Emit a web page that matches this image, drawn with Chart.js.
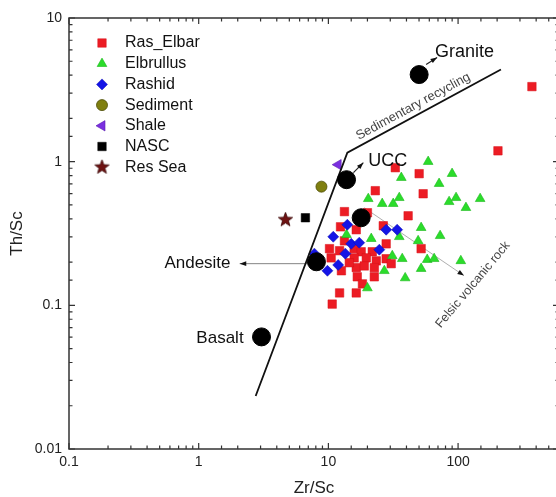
<!DOCTYPE html>
<html>
<head>
<meta charset="utf-8">
<script src="https://cdn.jsdelivr.net/npm/chart.js@4.4.1/dist/chart.umd.min.js"></script>
<style>
  html, body { margin: 0; padding: 0; background: #fff; overflow: hidden; }
  #wrap { width: 569px; height: 497px; }
</style>
</head>
<body>
<div id="wrap"><canvas id="chart" width="569" height="497"></canvas></div>
<script>
// Zr/Sc - Th/Sc verileri
const rasElbarZr = [371, 203, 32.8, 50.1, 53.8, 23.0, 13.3, 41.2, 26.5, 12.4, 16.4, 27.9, 51.9, 10.2, 12.2, 15.8, 17.9, 21.8, 13.3, 15.8, 19.6, 23.4, 27.9, 12.6, 16.4, 18.9, 22.6, 30.5, 16.7, 22.6, 18.3, 16.4, 12.2, 10.7, 10.5, 20.0, 14.5];
const rasElbarTh = [3.33, 1.19, 0.908, 0.825, 0.598, 0.628, 0.449, 0.420, 0.358, 0.352, 0.336, 0.268, 0.248, 0.248, 0.240, 0.248, 0.236, 0.236, 0.281, 0.214, 0.214, 0.204, 0.211, 0.174, 0.183, 0.188, 0.183, 0.195, 0.158, 0.158, 0.141, 0.122, 0.122, 0.102, 0.214, 0.441, 0.198];

const elbrullusZr = [58.8, 36.5, 89.9, 71.4, 20.3, 26.0, 31.6, 35.2, 96.5, 85.3, 115, 148, 51.9, 72.7, 49.2, 35.2, 21.4, 13.8, 31.1, 37.1, 57.8, 65.4, 105, 51.9, 27.0, 39.1, 20.0];
const elbrullusTh = [1.0, 0.774, 0.825, 0.703, 0.552, 0.510, 0.510, 0.561, 0.561, 0.526, 0.478, 0.552, 0.347, 0.305, 0.281, 0.300, 0.291, 0.310, 0.221, 0.211, 0.208, 0.211, 0.204, 0.180, 0.174, 0.155, 0.132];

const rashidZr = [14.0, 10.9, 27.9, 33.9, 15.0, 17.3, 13.5, 24.7, 7.80, 11.9, 9.83];
const rashidTh = [0.364, 0.300, 0.336, 0.336, 0.268, 0.273, 0.229, 0.244, 0.229, 0.191, 0.174];

const sedimentZr = [8.84];
const sedimentTh = [0.670];
const shaleZr = [11.9];
const shaleTh = [0.953];
const nascZr = [6.65];
const nascTh = [0.407];
const resSeaZr = [4.67];
const resSeaTh = [0.394];

// Referans kayaçlar: Granite, UCC, (isimsiz), Andesite, Basalt
const refZr = [50.1, 13.8, 17.9, 8.09, 3.05];
const refTh = [4.04, 0.749, 0.407, 0.201, 0.0603];

// Sedimenter geri dönüşüm / felsik sınır çizgisi
const trendZr = [2.75, 14.0, 214];
const trendTh = [0.0234, 1.155, 4.38];

const xTickLabels = [0.1, 1, 10, 100];
const yTickLabels = [0.01, 0.1, 1, 10];

const FONT = '"Liberation Sans", Arial, sans-serif';

const toPoints = (xs, ys) => xs.map((x, i) => ({ x: x, y: ys[i] }));

// Yıldız işareti (Res Sea)
function makeStar(r, fill, stroke) {
    const s = Math.ceil(r * 2 + 2);
    const c = document.createElement('canvas');
    c.width = s; c.height = s;
    const g = c.getContext('2d');
    g.beginPath();
    for (let i = 0; i < 10; i++) {
        const rr = i % 2 ? r * 0.42 : r;
        const a = -Math.PI / 2 + i * Math.PI / 5;
        g.lineTo(s / 2 + rr * Math.cos(a), s / 2 + rr * Math.sin(a));
    }
    g.closePath();
    g.fillStyle = fill; g.fill();
    g.strokeStyle = stroke; g.lineWidth = 0.8; g.stroke();
    return c;
}
const starImg = makeStar(7.5, '#6e1212', '#3a0606');

// Etiketler ve oklar (veri koordinatlarında)
const notes = [
    { text: 'Granite', at: [66.5, 5.84], align: 'left', size: 18, arrow: [[56.7, 4.74], [68.9, 5.31]] },
    { text: 'UCC', at: [20.3, 1.016], align: 'left', size: 18, arrow: [[15.6, 0.838], [18.6, 0.984]] },
    { text: 'Andesite', at: [1.76, 0.195], align: 'right', size: 17, arrow: [[6.9, 0.195], [2.07, 0.195]], thin: true },
    { text: 'Basalt', at: [2.22, 0.0594], align: 'right', size: 17 }
];
const felsicArrow = [[18.9, 0.478], [111, 0.161]];
const sedText = { text: 'Sedimentary recycling', at: [45.1, 2.42] };
const felsicText = { text: 'Felsic volcanic rock', at: [130, 0.139], angle: -50 };

function drawArrow(ctx, x1, y1, x2, y2, color, width) {
    const a = Math.atan2(y2 - y1, x2 - x1);
    ctx.save();
    ctx.strokeStyle = color;
    ctx.lineWidth = width;
    ctx.beginPath();
    ctx.moveTo(x1, y1);
    ctx.lineTo(x2, y2);
    ctx.stroke();
    ctx.fillStyle = '#111';
    ctx.beginPath();
    ctx.moveTo(x2, y2);
    ctx.lineTo(x2 - 7 * Math.cos(a - 0.35), y2 - 7 * Math.sin(a - 0.35));
    ctx.lineTo(x2 - 7 * Math.cos(a + 0.35), y2 - 7 * Math.sin(a + 0.35));
    ctx.closePath();
    ctx.fill();
    ctx.restore();
}

const annotations = {
    id: 'annotations',
    beforeDatasetsDraw(chart) {
        const { ctx, scales: { x, y } } = chart;
        const px = p => [x.getPixelForValue(p[0]), y.getPixelForValue(p[1])];
        const f1 = px(felsicArrow[0]), f2 = px(felsicArrow[1]);
        drawArrow(ctx, f1[0], f1[1], f2[0], f2[1], '#999', 0.8);
        notes.forEach(n => {
            if (!n.arrow) return;
            const a = px(n.arrow[0]), b = px(n.arrow[1]);
            drawArrow(ctx, a[0], a[1], b[0], b[1], n.thin ? '#666' : '#222', n.thin ? 0.8 : 1.2);
        });
    },
    afterDatasetsDraw(chart) {
        const { ctx, scales: { x, y } } = chart;
        const px = p => [x.getPixelForValue(p[0]), y.getPixelForValue(p[1])];
        ctx.save();
        ctx.textBaseline = 'middle';
        ctx.fillStyle = '#111';
        notes.forEach(n => {
            const p = px(n.at);
            ctx.font = n.size + 'px ' + FONT;
            ctx.textAlign = n.align;
            ctx.fillText(n.text, p[0], p[1]);
        });
        // sınır çizgisi boyunca yazı
        const t1 = px([trendZr[1], trendTh[1]]), t2 = px([trendZr[2], trendTh[2]]);
        const ang = Math.atan2(t2[1] - t1[1], t2[0] - t1[0]);
        const sp = px(sedText.at);
        ctx.translate(sp[0], sp[1]);
        ctx.rotate(ang);
        ctx.font = '13px ' + FONT;
        ctx.textAlign = 'center';
        ctx.fillStyle = '#444';
        ctx.fillText(sedText.text, 0, 0);
        ctx.restore();

        ctx.save();
        const fp = px(felsicText.at);
        ctx.translate(fp[0], fp[1]);
        ctx.rotate(felsicText.angle * Math.PI / 180);
        ctx.font = '12.5px ' + FONT;
        ctx.textAlign = 'center';
        ctx.textBaseline = 'middle';
        ctx.fillStyle = '#444';
        ctx.fillText(felsicText.text, 0, 0);
        ctx.restore();
    }
};

// Çerçeve ve içe dönük tik çizgileri
const frameTicks = {
    id: 'frameTicks',
    afterDraw(chart) {
        const { ctx, chartArea: a, scales: { x, y } } = chart;
        const isMajor = v => Math.abs(Math.log10(v) - Math.round(Math.log10(v))) < 1e-6;
        ctx.save();
        ctx.strokeStyle = '#333';
        ctx.lineWidth = 1.5;
        ctx.strokeRect(a.left, a.top, a.right - a.left, a.bottom - a.top);
        ctx.lineWidth = 1.2;
        ctx.beginPath();
        x.ticks.forEach(t => {
            const p = x.getPixelForValue(t.value);
            const len = isMajor(t.value) ? 6 : 3.5;
            ctx.moveTo(p, a.bottom); ctx.lineTo(p, a.bottom - len);
            ctx.moveTo(p, a.top); ctx.lineTo(p, a.top + len);
        });
        y.ticks.forEach(t => {
            const p = y.getPixelForValue(t.value);
            const len = isMajor(t.value) ? 6 : 3.5;
            ctx.moveTo(a.left, p); ctx.lineTo(a.left + len, p);
            ctx.moveTo(a.right, p); ctx.lineTo(a.right - len, p);
        });
        ctx.stroke();
        ctx.restore();
    }
};

// Grafik içi lejant
const insideLegend = {
    id: 'insideLegend',
    afterDraw(chart) {
        const ctx = chart.ctx;
        const items = chart.data.datasets.filter(d => d.inLegend);
        items.forEach((ds, i) => {
            const ly = 43 + i * 20.7;
            ctx.save();
            ctx.fillStyle = ds.backgroundColor;
            ctx.strokeStyle = ds.borderColor;
            ctx.lineWidth = ds.borderWidth;
            Chart.helpers.drawPoint(ctx, {
                pointStyle: ds.pointStyle,
                rotation: ds.pointRotation || 0,
                radius: ds.pointRadius,
                borderWidth: ds.borderWidth
            }, 102, ly);
            ctx.fillStyle = '#111';
            ctx.font = '16px ' + FONT;
            ctx.textAlign = 'left';
            ctx.textBaseline = 'middle';
            ctx.fillText(ds.label, 125, ly);
            ctx.restore();
        });
    }
};

const logTick = v => (xTickLabels.includes(v) || yTickLabels.includes(v)) ? String(v) : '';

const datasets = [
    { label: 'Reference', data: toPoints(refZr, refTh), pointStyle: 'circle', pointRadius: 9,
      backgroundColor: '#000', borderColor: '#000', borderWidth: 1, order: 0 },
    { label: 'Ras_Elbar', inLegend: true, data: toPoints(rasElbarZr, rasElbarTh), pointStyle: 'rect', pointRadius: 6,
      backgroundColor: '#ec1c24', borderColor: '#d81018', borderWidth: 0.5, order: 5 },
    { label: 'Elbrullus', inLegend: true, data: toPoints(elbrullusZr, elbrullusTh), pointStyle: 'triangle', pointRadius: 5.6,
      backgroundColor: '#2bdc2b', borderColor: '#1cb81c', borderWidth: 0.6, order: 4 },
    { label: 'Rashid', inLegend: true, data: toPoints(rashidZr, rashidTh), pointStyle: 'rectRot', pointRadius: 5.5,
      backgroundColor: '#1414e6', borderColor: '#0a0ab0', borderWidth: 0.5, order: 3 },
    { label: 'Sediment', inLegend: true, data: toPoints(sedimentZr, sedimentTh), pointStyle: 'circle', pointRadius: 5.5,
      backgroundColor: '#7f7f10', borderColor: '#4c4c05', borderWidth: 0.8, order: 2 },
    { label: 'Shale', inLegend: true, data: toPoints(shaleZr, shaleTh), pointStyle: 'triangle', pointRotation: -90, pointRadius: 6,
      backgroundColor: '#7b2fe0', borderColor: '#5a1fb0', borderWidth: 0.6, order: 2 },
    { label: 'NASC', inLegend: true, data: toPoints(nascZr, nascTh), pointStyle: 'rect', pointRadius: 6,
      backgroundColor: '#000', borderColor: '#000', borderWidth: 0.5, order: 2 },
    { label: 'Res Sea', inLegend: true, data: toPoints(resSeaZr, resSeaTh), pointStyle: starImg, pointRadius: 7.5,
      backgroundColor: '#6e1212', borderColor: '#3a0606', borderWidth: 0, order: 2 },
    { label: 'Trend', data: toPoints(trendZr, trendTh), showLine: true, pointRadius: 0,
      borderColor: '#111', borderWidth: 1.8, fill: false, order: 1 }
];

new Chart(document.getElementById('chart'), {
    type: 'scatter',
    data: { datasets: datasets },
    options: {
        responsive: false,
        animation: false,
        devicePixelRatio: 1,
        layout: { padding: { top: 18, right: 2, left: 0, bottom: 0 } },
        plugins: {
            legend: { display: false },
            tooltip: { enabled: false }
        },
        scales: {
            x: {
                type: 'logarithmic',
                min: 0.1,
                max: 600,
                grid: { display: false, drawTicks: false },
                border: { display: false },
                ticks: { autoSkip: false, maxRotation: 0, padding: 5, color: '#222',
                         font: { family: FONT, size: 14 }, callback: logTick },
                title: { display: true, text: 'Zr/Sc', color: '#222',
                         font: { family: FONT, size: 17, lineHeight: 1 }, padding: { top: 0, bottom: 0 } },
                afterFit(scale) {
                    scale.height = 48;
                }
            },
            y: {
                type: 'logarithmic',
                min: 0.01,
                max: 10,
                grid: { display: false, drawTicks: false },
                border: { display: false },
                ticks: { autoSkip: false, padding: 7, color: '#222',
                         font: { family: FONT, size: 14 }, callback: logTick },
                title: { display: true, text: 'Th/Sc', color: '#222',
                         font: { family: FONT, size: 17, lineHeight: 1 }, padding: { top: 9, bottom: 0 } },
                afterFit(scale) {
                    scale.width = 69;
                }
            }
        }
    },
    plugins: [annotations, frameTicks, insideLegend]
});
</script>
</body>
</html>
